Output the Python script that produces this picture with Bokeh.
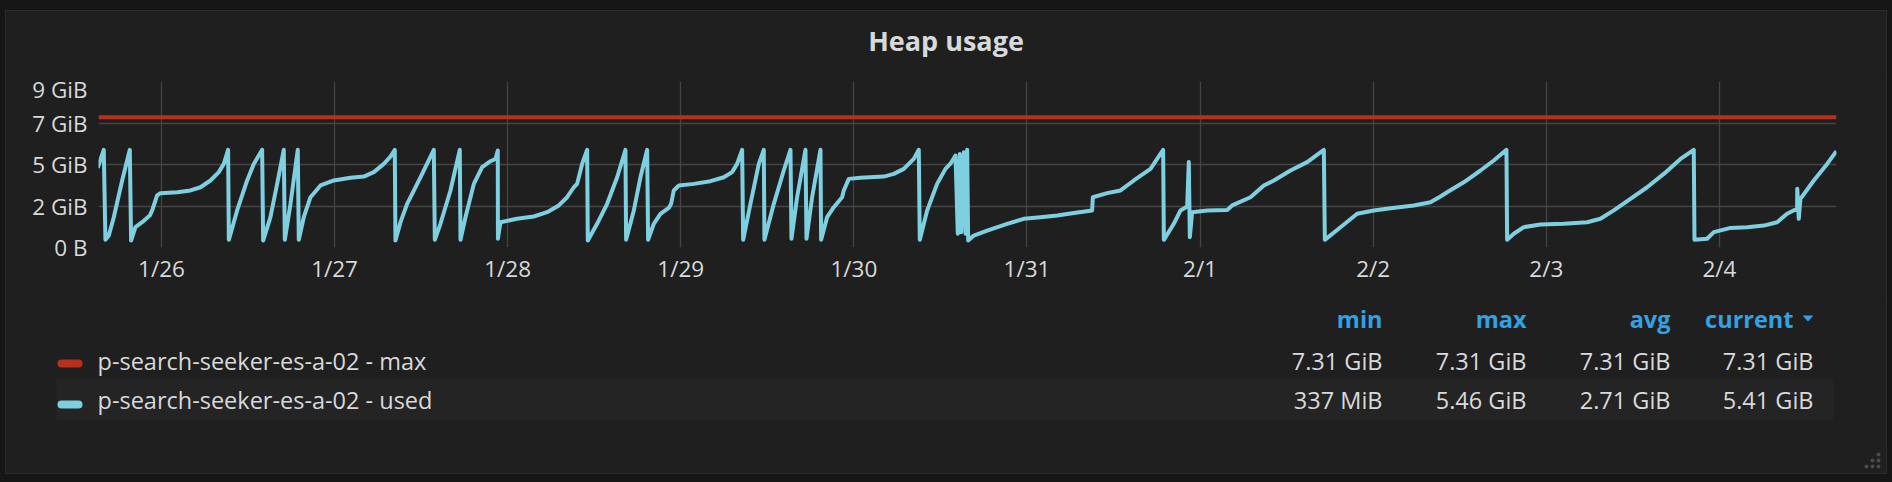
import numpy as np
import pandas as pd
from bokeh.plotting import figure
from bokeh.layouts import column
from bokeh.models import Range1d, FixedTicker, GlobalInlineStyleSheet
from bokeh.core.properties import value
from bokeh.embed import file_html
from bokeh.resources import INLINE

# ---------------- data ----------------
BASE = pd.Timestamp("2018-01-26 00:00")
GIB = 2 ** 30

# hours since 1/26 00:00 and heap used (GiB)
used_hours = [
    -8.83, -8.00, -7.77, -7.30, -6.61, -5.45, -4.39, -4.21, -3.61, -2.68,
    -1.62, -1.29, -0.60, -0.14, 2.17, 4.02, 5.41, 6.79, 7.95, 8.64,
    9.24, 9.34, 10.49, 11.88, 12.80, 13.96, 14.10, 15.11, 16.04, 16.96,
    17.10, 17.89, 18.90, 19.04, 19.73, 20.66, 22.05, 23.89, 26.21, 28.05,
    29.44, 30.83, 31.75, 32.35, 32.44, 33.14, 34.06, 35.91, 37.76, 37.90,
    38.68, 40.07, 41.36, 41.46, 42.15, 43.31, 44.46, 45.62, 46.31, 46.63,
    46.65, 47.00, 49.31, 51.62, 53.47, 55.09, 56.24, 57.17, 57.63, 58.32,
    59.02, 59.11, 60.40, 61.79, 63.18, 64.33, 64.42, 65.49, 66.41, 67.34,
    67.47, 68.26, 69.18, 70.34, 70.66, 71.03, 71.73, 73.81, 76.12, 77.97,
    79.12, 79.81, 80.51, 80.65, 81.66, 82.82, 83.51, 83.60, 84.90, 86.28,
    87.21, 87.35, 88.13, 89.29, 89.43, 90.21, 91.37, 91.46, 92.29, 93.22,
    94.37, 94.60, 95.30, 96.91, 100.15, 101.54, 102.92, 104.31, 105.00, 105.14,
    106.16, 107.54, 108.70, 109.39, 110.09, 110.41, 110.69, 110.88, 111.25, 111.48,
    111.71, 111.85, 112.63, 114.48, 117.25, 119.56, 121.87, 124.19, 126.50, 129.04,
    129.13, 131.12, 132.97, 134.82, 137.13, 138.88, 138.98, 140.36, 141.29, 142.21,
    142.44, 142.58, 142.90, 144.98, 147.76, 148.45, 150.99, 152.84, 154.23, 156.54,
    158.85, 161.16, 161.30, 163.47, 165.78, 168.09, 170.40, 173.63, 175.94, 177.33,
    178.25, 180.56, 182.88, 184.72, 186.48, 186.57, 187.50, 188.88, 191.19, 194.43,
    197.66, 199.51, 201.36, 203.67, 205.98, 208.29, 210.61, 212.45, 212.55, 214.30,
    215.23, 217.54, 219.85, 222.16, 224.01, 225.39, 226.78, 226.80, 227.01, 227.24,
    229.09, 230.94, 232.23,
]
used_gib = [
    4.47, 5.48, 0.43, 0.67, 1.70, 3.76, 5.48, 0.39, 1.14, 1.42,
    1.79, 2.08, 2.92, 3.05, 3.10, 3.20, 3.38, 3.76, 4.23, 4.69,
    5.48, 0.43, 2.08, 3.76, 4.69, 5.48, 0.39, 1.70, 3.57, 5.48,
    0.43, 2.45, 5.48, 0.43, 1.70, 2.82, 3.48, 3.76, 3.91, 3.98,
    4.23, 4.69, 5.10, 5.48, 0.39, 1.42, 2.45, 3.94, 5.48, 0.43,
    1.33, 3.20, 5.48, 0.43, 1.70, 3.57, 4.51, 4.84, 4.97, 5.44,
    0.49, 1.42, 1.61, 1.74, 1.98, 2.36, 2.82, 3.38, 3.57, 4.69,
    5.48, 0.39, 1.33, 2.45, 3.94, 5.48, 0.43, 2.08, 3.94, 5.48,
    0.43, 1.33, 1.89, 2.22, 2.45, 3.20, 3.48, 3.57, 3.72, 3.94,
    4.23, 4.69, 5.48, 0.43, 2.45, 4.69, 5.48, 0.43, 2.45, 4.32,
    5.48, 0.49, 2.82, 5.48, 0.49, 2.82, 5.48, 0.43, 1.70, 2.26,
    2.82, 3.20, 3.85, 3.91, 3.98, 4.13, 4.41, 4.97, 5.48, 0.43,
    2.08, 3.57, 4.41, 4.70, 5.16, 0.77, 5.25, 0.86, 5.35, 0.77,
    5.48, 0.39, 0.67, 0.95, 1.33, 1.61, 1.70, 1.79, 1.93, 2.08,
    2.82, 3.05, 3.20, 3.76, 4.41, 5.48, 0.43, 1.33, 2.08, 2.30,
    4.79, 0.58, 1.98, 2.08, 2.11, 2.36, 2.82, 3.48, 3.76, 4.32,
    4.79, 5.48, 0.43, 1.14, 1.89, 2.08, 2.20, 2.36, 2.54, 2.86,
    3.10, 3.66, 4.32, 4.88, 5.48, 0.43, 0.77, 1.14, 1.29, 1.33,
    1.42, 1.61, 2.08, 2.73, 3.38, 4.13, 4.97, 5.48, 0.43, 0.49,
    0.86, 1.10, 1.14, 1.23, 1.42, 1.89, 2.17, 3.29, 1.61, 2.73,
    3.76, 4.69, 5.40,
]

max_hours = [-8.73, 232.24]
max_gib = [7.31, 7.31]
range_hours = [-8.73, 232.24]

day_ticks = ["2018-01-26", "2018-01-27", "2018-01-28", "2018-01-29", "2018-01-30",
             "2018-01-31", "2018-02-01", "2018-02-02", "2018-02-03", "2018-02-04"]
day_labels = ["1/26", "1/27", "1/28", "1/29", "1/30", "1/31", "2/1", "2/2", "2/3", "2/4"]

y_tick_bytes = [0, 2500000000, 5000000000, 7500000000, 10000000000]
y_tick_labels = ["0 B", "2 GiB", "5 GiB", "7 GiB", "9 GiB"]

legend_names = ["p-search-seeker-es-a-02 - max", "p-search-seeker-es-a-02 - used"]
stat_headers = ["min", "max", "avg", "current"]
stats_max = ["7.31 GiB", "7.31 GiB", "7.31 GiB", "7.31 GiB"]
stats_used = ["337 MiB", "5.46 GiB", "2.71 GiB", "5.41 GiB"]

# ---------------- style ----------------
W = 1880
FONT = "Open Sans"
BG = "#1f1f1f"
TXT = "#d8d9da"
BLUE = "#33a2e5"
RED = "#b8301c"
CYAN = "#7ecfe0"


def to_dt(hrs):
    return BASE + pd.to_timedelta(np.asarray(hrs, dtype=float), unit="h")


def blank(fig):
    fig.background_fill_color = BG
    fig.border_fill_color = BG
    fig.outline_line_color = None
    fig.grid.visible = False


# ---------------- title ----------------
TH = 62
tf = figure(width=W, height=TH, output_backend="svg", toolbar_location=None,
            x_range=Range1d(0, W), y_range=Range1d(TH, 0),
            x_axis_location=None, y_axis_location=None, min_border=0,
            frame_align=False)
blank(tf)
tf.text(x=[939.5], y=[29], text=["Heap usage"], text_font=value(FONT),
        text_font_size="27px", text_font_style="bold", text_color=TXT,
        text_align="center", text_baseline="alphabetic")

# ---------------- chart ----------------
CH = 227
xr = to_dt(range_hours)
p = figure(width=W, height=CH, output_backend="svg", toolbar_location=None,
           x_axis_type="datetime", x_range=Range1d(xr[0], xr[1]),
           y_range=Range1d(0, y_tick_bytes[-1]),
           min_border_left=92, min_border_right=50, min_border_top=8, min_border_bottom=53,
           frame_align=False)
p.background_fill_color = BG
p.border_fill_color = BG
p.outline_line_color = None

p.line(to_dt(max_hours), np.asarray(max_gib) * GIB, line_color=RED, line_width=4)
p.line(to_dt(used_hours), np.asarray(used_gib) * GIB, line_color=CYAN, line_width=4,
       line_join="round")

tick_ms = [int(pd.Timestamp(d).value // 10**6) for d in day_ticks]
p.xaxis.ticker = FixedTicker(ticks=tick_ms)
p.xaxis.major_label_overrides = dict(zip(tick_ms, day_labels))
p.yaxis.ticker = FixedTicker(ticks=y_tick_bytes)
p.yaxis.major_label_overrides = dict(zip(y_tick_bytes, y_tick_labels))

p.grid.grid_line_color = "#444444"
p.grid.grid_line_width = 1.3
p.axis.axis_line_color = None
p.axis.major_tick_line_color = None
p.axis.minor_tick_line_color = None
p.axis.major_tick_out = 0
p.axis.major_tick_in = 0
p.axis.major_label_text_font = FONT
p.axis.major_label_text_font_size = "22.5px"
p.axis.major_label_text_color = TXT
p.xaxis.major_label_standoff = 5
p.yaxis.major_label_standoff = 11

# ---------------- legend table ----------------
LH = 173
lf = figure(width=W, height=LH, output_backend="svg", toolbar_location=None,
            x_range=Range1d(0, W), y_range=Range1d(LH, 0),
            x_axis_location=None, y_axis_location=None, min_border=0,
            frame_align=False)
blank(lf)

lf.quad(left=[50], right=[1827], top=[78], bottom=[120], fill_color="#242424", line_color=None)
lf.segment(x0=[55, 55], y0=[63, 104], x1=[72, 72], y1=[63, 104],
           line_color=[RED, CYAN], line_width=8, line_cap="round")
lf.text(x=[91, 91], y=[60, 99], text=legend_names, text_font=value(FONT),
        text_font_size="23.5px", text_color=TXT, text_align="left",
        text_baseline="alphabetic")

hdr_x = [1376, 1520, 1664, 1787]
val_x = [1376, 1520, 1664, 1807]
lf.text(x=hdr_x, y=[18] * 4, text=stat_headers, text_font=value(FONT),
        text_font_size="23.5px", text_font_style="bold", text_color=BLUE,
        text_align="right", text_baseline="alphabetic")
lf.patch(x=[1796, 1807, 1801.5], y=[15, 15, 21], fill_color=BLUE, line_color=None)
lf.text(x=val_x, y=[60] * 4, text=stats_max, text_font=value(FONT),
        text_font_size="23.5px", text_color=TXT, text_align="right",
        text_baseline="alphabetic")
lf.text(x=val_x, y=[99] * 4, text=stats_used, text_font=value(FONT),
        text_font_size="23.5px", text_color=TXT, text_align="right",
        text_baseline="alphabetic")

# panel resize handle (decorative dots)
lf.scatter(x=[1860, 1866, 1872, 1866, 1872, 1872], y=[166, 166, 166, 160, 160, 154],
           size=4, marker="circle", fill_color="#4a4a4a", line_color=None)

layout = column(tf, p, lf, spacing=0,
                styles={"margin": "11px 0 0 6px", "background-color": BG,
                        "outline": "1px solid #2c2c2c"},
                stylesheets=[GlobalInlineStyleSheet(css="body { background: #161616; }")])

open("out.html", "w").write(file_html(layout, INLINE))
